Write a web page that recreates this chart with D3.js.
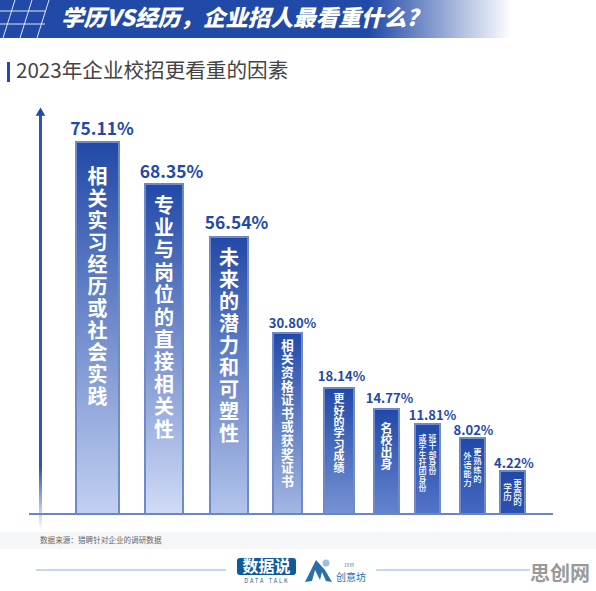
<!DOCTYPE html>
<html>
<head>
<meta charset="utf-8">
<script src="https://cdn.jsdelivr.net/npm/d3@7/dist/d3.min.js"></script>
<style>
html, body { margin: 0; padding: 0; background: #fff; }
svg { display: block; }
text { font-family: "Noto Sans CJK SC", "Noto Sans", sans-serif; }
</style>
</head>
<body>
<div id="chart"></div>
<script>
// values
var values = [ 75.11, 68.35, 56.54, 30.80, 18.14, 14.77, 11.81, 8.02, 4.22 ];
var valueLabels = [ '75.11%', '68.35%', '56.54%', '30.80%', '18.14%', '14.77%', '11.81%', '8.02%', '4.22%' ];
// one inner list per column of vertical text, right column first
var categories = [
    [ '相关实习经历或社会实践' ],
    [ '专业与岗位的直接相关性' ],
    [ '未来的潜力和可塑性' ],
    [ '相关资格证书或获奖证书' ],
    [ '更好的学习成绩' ],
    [ '名校出身' ],
    [ '班干部身份', '或学生社团身份' ],
    [ '更熟练的', '外语能力' ],
    [ '更高的', '学历' ]
];

var title = '学历VS经历，企业招人最看重什么?';
var subtitle = '2023年企业校招更看重的因素';
var source = '数据来源：猎聘针对企业的调研数据';

// bars are not drawn to a straight scale in the original, so the scale is piecewise
var barTops = [ 142, 184, 237, 333, 388, 409, 424, 438, 471 ];
var barLefts = [ 76, 145, 210, 273, 324, 374, 415, 460, 500 ];
var barWidths = [ 43, 38, 38, 29, 30, 25, 25, 25, 25 ];
var barBottomColors = [ '#c2d0f1', '#d0dbf6', '#b4c5ec', '#a5b8e3', '#7792d4', '#6584ce', '#5374c7', '#4568c0', '#2c52b0' ];
var textSizes = [ 20, 20, 20, 12.8, 11, 12, 8, 8.4, 8.6 ];
var textPitch = [ 22, 22.4, 22, 13.6, 11.4, 12, 8.3, 8.9, 9 ];
var textStarts = [ 176, 205, 257, 345, 399, 428, 438, 452, 484 ];
var labelSizes = [ 17.4, 17.4, 17.4, 13, 13, 13, 13, 13, 13 ];
var labelShift = [ 4.5, 7.5, 7.5, 5, 2.5, 3, 5, 1, 1.5 ];
var labelGap = [ 7, 6, 8, 5, 7, 6, 4, 3, 3 ];

var width = 596, height = 591, baseY = 514;
var blue = '#2149a8';

var svg = d3.select( '#chart' ).append( 'svg' )
    .attr( 'width' , width )
    .attr( 'height' , height );
var defs = svg.append( 'defs' );

var y = d3.scaleLinear()
    .domain( [ 0 ].concat( values.slice().reverse() ) )
    .range( [ baseY ].concat( barTops.slice().reverse() ) );
var x = d3.scaleLinear()
    .domain( d3.range( values.length ) )
    .range( barLefts );

// header band
var headGrad = defs.append( 'linearGradient' ).attr( 'id' , 'headGrad' );
headGrad.append( 'stop' ).attr( 'offset' , '0.72' ).attr( 'stop-color' , blue );
headGrad.append( 'stop' ).attr( 'offset' , '1' ).attr( 'stop-color' , '#fff' );
svg.append( 'rect' )
    .attr( 'width' , 512 )
    .attr( 'height' , 38 )
    .attr( 'fill' , 'url(#headGrad)' );

// the little slanted grid in the corner
var grid = svg.append( 'g' ).attr( 'stroke' , '#dfe6f7' ).attr( 'stroke-width' , 1 ).attr( 'fill' , 'none' );
[ 11, 24 ].forEach( function( h ) {
    grid.append( 'line' ).attr( 'x1' , 0 ).attr( 'x2' , 45 ).attr( 'y1' , h ).attr( 'y2' , h );
});
[ 15, 32, 49 ].forEach( function( a ) {
    grid.append( 'line' ).attr( 'x1' , a ).attr( 'x2' , a - 12 ).attr( 'y1' , 0 ).attr( 'y2' , 38 );
});

svg.append( 'text' )
    .attr( 'x' , 61 )
    .attr( 'y' , 26 )
    .attr( 'fill' , '#fff' )
    .attr( 'font-size' , 22.6 )
    .attr( 'font-weight' , 900 )
    .attr( 'font-style' , 'italic' )
    .text( title );

// subtitle
svg.append( 'rect' )
    .attr( 'x' , 7 ).attr( 'y' , 62 )
    .attr( 'width' , 3 ).attr( 'height' , 20 )
    .attr( 'fill' , blue );
svg.append( 'text' )
    .attr( 'x' , 16 )
    .attr( 'y' , 78 )
    .attr( 'fill' , '#444' )
    .attr( 'font-size' , 20.6 )
    .text( subtitle );

// bars
var grads = defs.selectAll( '.barGrad' )
    .data( values )
    .enter()
    .append( 'linearGradient' )
    .attr( 'class' , 'barGrad' )
    .attr( 'id' , function( d , i ){ return 'bar' + i })
    .attr( 'x1' , 0 ).attr( 'x2' , 0 ).attr( 'y1' , 0 ).attr( 'y2' , 1 );
grads.append( 'stop' ).attr( 'offset' , 0 ).attr( 'stop-color' , blue );
grads.append( 'stop' ).attr( 'offset' , 1 ).attr( 'stop-color' , function( d , i ){ return barBottomColors[ i ] });

svg.selectAll( '.bar' )
    .data( values )
    .enter()
    .append( 'rect' )
    .attr( 'class' , 'bar' )
    .attr( 'x' , function( d , i ){ return x( i ) })
    .attr( 'y' , function( d ){ return y( d ) })
    .attr( 'width' , function( d , i ){ return barWidths[ i ] })
    .attr( 'height' , function( d ){ return baseY - y( d ) })
    .attr( 'fill' , function( d , i ){ return 'url(#bar' + i + ')' })
    .attr( 'stroke' , '#6f89c9' )
    .attr( 'stroke-width' , 2 );

// value labels
svg.selectAll( '.val' )
    .data( values )
    .enter()
    .append( 'text' )
    .attr( 'class' , 'val' )
    .attr( 'x' , function( d , i ){ return x( i ) + barWidths[ i ] / 2 + labelShift[ i ] })
    .attr( 'y' , function( d , i ){ return y( d ) - labelGap[ i ] })
    .attr( 'text-anchor' , 'middle' )
    .attr( 'fill' , blue )
    .attr( 'font-size' , function( d , i ){ return labelSizes[ i ] })
    .attr( 'font-weight' , 700 )
    .text( function( d , i ){ return valueLabels[ i ] });

// vertical category text, one text per column
categories.forEach( function( cols , i ) {
    var cx = x( i ) + barWidths[ i ] / 2;
    cols.forEach( function( col , c ) {
        var colX = cols.length > 1 ? cx + ( c === 0 ? 5 : -5 ) : cx;
        var colStart = textStarts[ i ] + ( c === 0 || i === 6 ? 0 : 4 );
        svg.append( 'text' )
            .attr( 'x' , colX )
            .attr( 'y' , colStart - textSizes[ i ] / 2 )
            .attr( 'writing-mode' , 'vertical-rl' )
            .attr( 'letter-spacing' , textPitch[ i ] - textSizes[ i ] )
            .attr( 'fill' , '#fff' )
            .attr( 'font-size' , textSizes[ i ] )
            .attr( 'font-weight' , i < 6 ? 700 : 500 )
            .text( col );
    });
});

// axes
var axisFade = defs.append( 'linearGradient' ).attr( 'id' , 'axisFade' )
    .attr( 'gradientUnits' , 'userSpaceOnUse' )
    .attr( 'x1' , 0 ).attr( 'x2' , 0 ).attr( 'y1' , 110 ).attr( 'y2' , 530 );
axisFade.append( 'stop' ).attr( 'offset' , '0.85' ).attr( 'stop-color' , '#2f55b3' );
axisFade.append( 'stop' ).attr( 'offset' , '1' ).attr( 'stop-color' , '#fff' );
svg.append( 'rect' )
    .attr( 'x' , 39 ).attr( 'y' , 112 )
    .attr( 'width' , 3 ).attr( 'height' , 418 )
    .attr( 'fill' , 'url(#axisFade)' );
svg.append( 'path' )
    .attr( 'd' , d3.symbol( d3.symbolTriangle , 40 )() )
    .attr( 'transform' , 'translate(40.5,113)' )
    .attr( 'fill' , blue );
svg.append( 'line' )
    .attr( 'x1' , 29 ).attr( 'x2' , 553 )
    .attr( 'y1' , baseY ).attr( 'y2' , baseY )
    .attr( 'stroke' , '#6b85c6' )
    .attr( 'stroke-width' , 2 );

// source band
svg.append( 'rect' )
    .attr( 'x' , 0 ).attr( 'y' , 532 )
    .attr( 'width' , width ).attr( 'height' , 17 )
    .attr( 'fill' , '#f6f7f9' );
svg.append( 'text' )
    .attr( 'x' , 40 )
    .attr( 'y' , 543 )
    .attr( 'fill' , '#666' )
    .attr( 'font-size' , 7.6 )
    .text( source );

// footer
svg.append( 'line' ).attr( 'x1' , 36 ).attr( 'x2' , 226 ).attr( 'y1' , 570 ).attr( 'y2' , 570 ).attr( 'stroke' , '#8fb0d8' );
svg.append( 'line' ).attr( 'x1' , 376 ).attr( 'x2' , 530 ).attr( 'y1' , 570 ).attr( 'y2' , 570 ).attr( 'stroke' , '#8fb0d8' );
svg.append( 'rect' )
    .attr( 'x' , 237 ).attr( 'y' , 558 )
    .attr( 'width' , 59 ).attr( 'height' , 17 ).attr( 'rx' , 3 )
    .attr( 'fill' , '#0f5a9c' );
svg.append( 'text' )
    .attr( 'x' , 266.5 ).attr( 'y' , 572 )
    .attr( 'text-anchor' , 'middle' )
    .attr( 'fill' , '#fff' ).attr( 'font-size' , 16 ).attr( 'font-weight' , 700 )
    .text( '数据说' );
svg.append( 'text' )
    .attr( 'x' , 267 ).attr( 'y' , 583 )
    .attr( 'text-anchor' , 'middle' )
    .attr( 'fill' , '#0f5a9c' ).attr( 'font-size' , 5.5 ).attr( 'letter-spacing' , 2 )
    .text( 'DATA TALK' );
// mountain mark
svg.append( 'path' )
    .attr( 'd' , 'M305 582L316 560L325 570L332 582L326 581L322 572L320 580L315 570L312 581Z' )
    .attr( 'fill' , '#2a6fa8' );
svg.append( 'circle' )
    .attr( 'cx' , 326 ).attr( 'cy' , 563 ).attr( 'r' , 3.5 )
    .attr( 'fill' , '#9fbfe0' );
svg.append( 'text' )
    .attr( 'x' , 336 ).attr( 'y' , 581 )
    .attr( 'fill' , '#2a6fa8' ).attr( 'font-size' , 10 )
    .text( '创意坊' );
svg.append( 'text' )
    .attr( 'x' , 344 ).attr( 'y' , 567 )
    .attr( 'fill' , '#2a6fa8' ).attr( 'font-size' , 4.5 )
    .text( '1939' );
svg.append( 'text' )
    .attr( 'x' , 530 ).attr( 'y' , 581 )
    .attr( 'fill' , '#9a9a9a' ).attr( 'font-size' , 20 ).attr( 'font-weight' , 700 )
    .text( '思创网' );
</script>
</body>
</html>
